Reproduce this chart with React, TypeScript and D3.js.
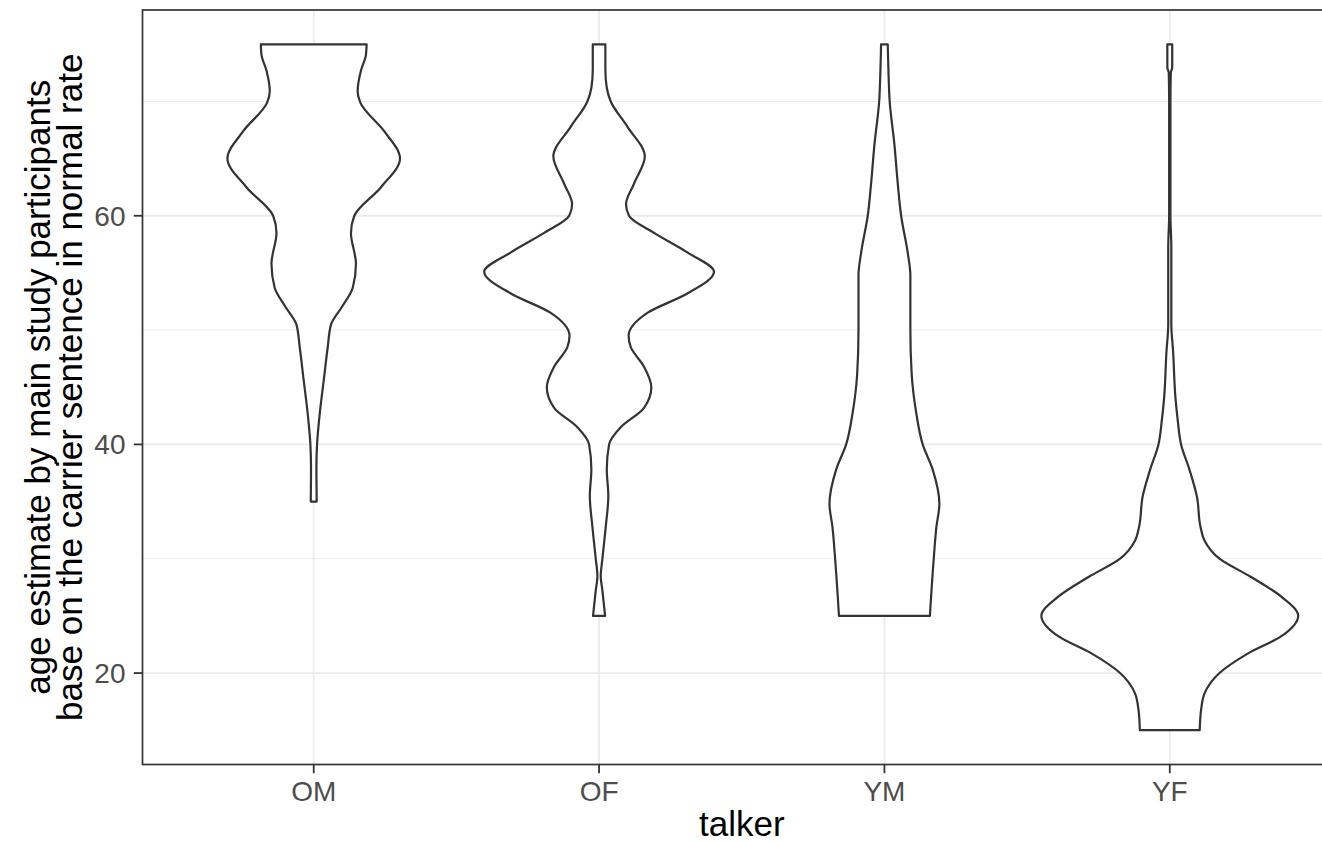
import React from "react";
import * as d3 from "d3";

const categories = ["OM", "OF", "YM", "YF"];
const yMajorTicks = [20, 40, 60];
const yMinorTicks = [30, 50, 70];
const yDomain = [12, 78];

const omAge = [75, 74.1, 72.7, 70.9, 69.9, 67.4, 65.0, 62.5, 60.0, 58.5, 55.8, 53.7, 52.0, 50.5, 48.5, 45.6, 42.7, 40, 38, 35];
const omDensity = [0.412, 0.407, 0.368, 0.342, 0.363, 0.549, 0.672, 0.524, 0.316, 0.29, 0.329, 0.304, 0.218, 0.135, 0.109, 0.078, 0.047, 0.026, 0.021, 0.023];

const ofAge = [75, 72.8, 71.2, 70, 67.8, 65.2, 62.8, 61, 60, 58.5, 56.8, 55.1, 53.2, 51.5, 49.5, 48.5, 46.8, 45, 43.2, 41.5, 40, 37.8, 35.5, 32.8, 30, 28.5, 27.2, 25];
const ofDensity = [0.049, 0.049, 0.06, 0.091, 0.22, 0.356, 0.272, 0.21, 0.233, 0.428, 0.687, 0.895, 0.687, 0.376, 0.23, 0.247, 0.35, 0.407, 0.35, 0.169, 0.078, 0.06, 0.072, 0.052, 0.026, 0.013, 0.026, 0.047];

const ymAge = [75, 72.8, 70, 66.2, 62.8, 60, 56.8, 54.8, 50, 46.2, 42.8, 40, 37.8, 34.8, 32.8, 30, 25];
const ymDensity = [0.026, 0.031, 0.041, 0.078, 0.104, 0.13, 0.181, 0.202, 0.202, 0.212, 0.247, 0.298, 0.376, 0.428, 0.405, 0.384, 0.354];

const yfAge = [75, 73, 72.5, 70, 60, 57.3, 50.5, 48.1, 44.1, 42.1, 40, 37.8, 35.4, 32.8, 31.6, 30, 28.4, 26.7, 25, 23.2, 21.7, 20, 18.2, 16.8, 15];
const yfDensity = [0.019, 0.019, 0.008, 0.005, 0.005, 0.012, 0.012, 0.026, 0.044, 0.062, 0.088, 0.153, 0.212, 0.239, 0.27, 0.387, 0.633, 0.866, 1.0, 0.866, 0.607, 0.387, 0.27, 0.244, 0.233];

const violinAges = [omAge, ofAge, ymAge, yfAge];
const violinDensities = [omDensity, ofDensity, ymDensity, yfDensity];

const xTitle = "talker";
const yTitleLines = [
  "age estimate by main study participants",
  "base on the carrier sentence in normal rate",
];

export default function App() {
  const W = 1322;
  const H = 842;
  const left = 142.5;
  const right = 1341;
  const top = 10;
  const bottom = 764.5;
  const font = "'Liberation Sans', Arial, Helvetica, sans-serif";

  const x = d3.scalePoint<string>().domain(categories).range([left, right]).padding(0.6);
  const y = d3.scaleLinear().domain(yDomain).range([bottom, top]);
  const halfW = d3.scaleLinear().domain([0, 1]).range([0, 0.45 * x.step()]);

  const violinPath = (i: number) => {
    const cx = x(categories[i]) as number;
    const pts = violinAges[i].map((a, k) => ({ a, d: violinDensities[i][k] }));
    const side = (sign: number) =>
      d3
        .line<{ a: number; d: number }>()
        .x((p) => cx + sign * halfW(p.d))
        .y((p) => y(p.a))
        .curve(d3.curveMonotoneY);
    const r = side(1)(pts) as string;
    const l = side(-1)(pts.slice().reverse()) as string;
    return r + "L" + l.slice(1) + "Z";
  };

  const midY = (top + bottom) / 2;
  const midX = (left + right) / 2;

  return (
    <svg
      width={W}
      height={H}
      style={{ position: "fixed", left: 0, top: 0, background: "#fff", display: "block" }}
    >
      <rect x={0} y={0} width={W} height={H} fill="#fff" />
      {yMinorTicks.map((t) => (
        <line key={"mn" + t} x1={left} x2={right} y1={y(t)} y2={y(t)} stroke="#EBEBEB" strokeWidth={1} />
      ))}
      {yMajorTicks.map((t) => (
        <line key={"mj" + t} x1={left} x2={right} y1={y(t)} y2={y(t)} stroke="#EBEBEB" strokeWidth={1.8} />
      ))}
      {categories.map((c) => (
        <line key={"gx" + c} x1={x(c)} x2={x(c)} y1={top} y2={bottom} stroke="#EBEBEB" strokeWidth={1.8} />
      ))}
      {categories.map((c, i) => (
        <path key={"v" + c} d={violinPath(i)} fill="#fff" stroke="#333333" strokeWidth={2.2} strokeLinejoin="round" />
      ))}
      <rect x={left} y={top} width={right - left} height={bottom - top} fill="none" stroke="#333333" strokeWidth={1.7} />
      {yMajorTicks.map((t) => (
        <g key={"yt" + t}>
          <line x1={left - 8.7} x2={left} y1={y(t)} y2={y(t)} stroke="#333333" strokeWidth={1.8} />
          <text
            x={left - 17}
            y={y(t)}
            dy="0.355em"
            textAnchor="end"
            fontFamily={font}
            fontSize={28}
            fill="#4D4D4D"
          >
            {t}
          </text>
        </g>
      ))}
      {categories.map((c) => (
        <g key={"xt" + c}>
          <line x1={x(c)} x2={x(c)} y1={bottom} y2={bottom + 8.7} stroke="#333333" strokeWidth={1.8} />
          <text x={x(c)} y={801} textAnchor="middle" fontFamily={font} fontSize={28} fill="#4D4D4D">
            {c}
          </text>
        </g>
      ))}
      <text x={midX} y={836} textAnchor="middle" fontFamily={font} fontSize={35} fill="#000">
        {xTitle}
      </text>
      {yTitleLines.map((s, k) => (
        <text
          key={"yl" + k}
          transform={`translate(${49.5 + k * 32.5},${midY}) rotate(-90)`}
          textAnchor="middle"
          fontFamily={font}
          fontSize={35}
          fill="#000"
        >
          {s}
        </text>
      ))}
    </svg>
  );
}
